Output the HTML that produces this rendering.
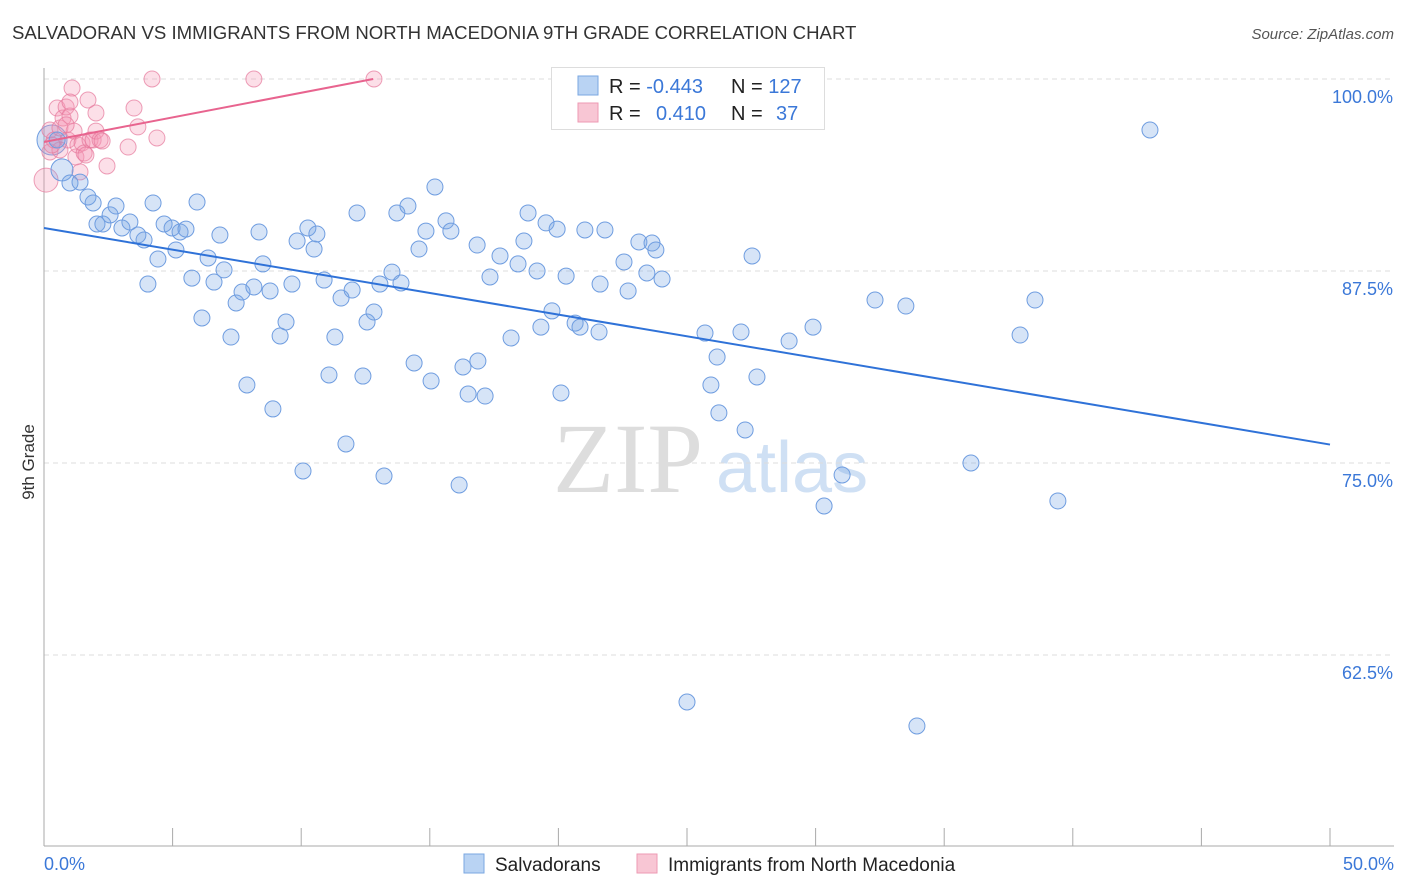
<!DOCTYPE html>
<html><head><meta charset="utf-8"><style>
body{margin:0;background:#fff;font-family:"Liberation Sans",sans-serif;}
svg{display:block}
</style></head><body>
<svg id="chart" width="1406" height="892">
<text x="12" y="39" font-size="18.6" fill="#333">SALVADORAN VS IMMIGRANTS FROM NORTH MACEDONIA 9TH GRADE CORRELATION CHART</text>
<text x="1394" y="39" font-size="15" fill="#555" font-style="italic" text-anchor="end">Source: ZipAtlas.com</text>
<text x="34" y="462" font-size="17" fill="#333" transform="rotate(-90 34 462)" text-anchor="middle">9th Grade</text>
<text x="553" y="492" font-size="100" fill="#ddd" font-family="Liberation Serif">ZIP</text>
<text x="716" y="492" font-size="72" fill="#cfe0f4">atlas</text>
<g id="grid"></g><g id="axes"></g><g id="pts"></g><g id="lines"></g>
<g>
<rect x="551.5" y="67.5" width="273" height="62" fill="#fff" stroke="#ddd"/>
<rect x="578" y="76" width="20" height="19" fill="#b9d3f3" stroke="#7aa7e2"/>
<rect x="578" y="103" width="20" height="19" fill="#f8c6d4" stroke="#ee9ab3"/>
<text x="609" y="93" font-size="20" fill="#222">R = <tspan fill="#3b78d8">-0.443</tspan></text>
<text x="731" y="93" font-size="20" fill="#222">N = <tspan fill="#3b78d8">127</tspan></text>
<text x="609" y="120" font-size="20" fill="#222">R = <tspan fill="#3b78d8" x="656">0.410</tspan></text>
<text x="731" y="120" font-size="20" fill="#222">N = <tspan fill="#3b78d8" x="776">37</tspan></text>
</g>
<g>
<rect x="464" y="854" width="20" height="19" fill="#b9d3f3" stroke="#7aa7e2"/>
<text x="495" y="871" font-size="19" fill="#222">Salvadorans</text>
<rect x="637" y="854" width="20" height="19" fill="#f8c6d4" stroke="#ee9ab3"/>
<text x="668" y="871" font-size="19" fill="#222">Immigrants from North Macedonia</text>
</g>
</svg>
<script>
const yTicks=[100,87.5,75,62.5];
const yTickLabels=["100.0%","87.5%","75.0%","62.5%"];
const xLabels=["0.0%","50.0%"];
const blueX=[1150,57,62,70,80,88,93,97,103,110,116,122,130,138,144,148,153,158,164,172,176,180,186,192,197,202,208,214,220,224,231,236,242,247,254,259,263,270,273,280,286,292,297,303,308,314,317,324,329,335,341,346,352,357,363,367,374,380,384,392,397,401,408,414,419,426,431,435,446,451,459,463,468,477,478,485,490,500,511,518,524,528,537,541,546,552,557,561,566,575,580,585,599,600,605,624,628,639,647,652,656,662,684,687,705,711,717,719,741,745,752,757,789,813,824,842,875,906,917,971,1020,1035,1058].map(p=>+((p-44)/25.72).toFixed(2));
const blueY=[130,140,170,183,182,197,203,224,224,215,206,228,222,235,240,284,203,259,224,228,250,232,229,278,202,318,258,282,235,270,337,303,292,385,287,232,264,291,409,336,322,284,241,471,228,249,234,280,375,337,298,444,290,213,376,322,312,284,476,272,213,283,206,363,249,231,381,187,221,231,485,367,394,245,361,396,277,256,338,264,241,213,271,327,223,311,229,393,276,323,327,230,332,284,230,262,291,242,273,243,250,279,80,702,333,385,357,413,332,430,256,377,341,327,506,475,300,306,726,463,335,300,501].map(p=>+(100-(p-79)/15.36).toFixed(2));
const pinkX=[46,50,50,54,57,60,63,66,68,70,72,74,76,78,80,82,84,88,90,93,96,100,102,107,128,134,138,152,157,254,374,66,60,52,96,86,70].map(p=>+((p-44)/25.72).toFixed(2));
const pinkY=[180,130,152,140,108,128,118,107,140,116,88,131,157,145,172,143,153,100,140,140,131,140,141,166,147,108,127,79,138,79,79,125,150,145,113,155,102].map(p=>+(100-(p-79)/15.36).toFixed(2));
const blueTrend=[[0,90.3],[50,76.2]];
const pinkTrend=[[0,95.9],[12.8,100]];
const X=v=>44+v*25.72, Y=v=>79+(100-v)*15.36;
const NS="http://www.w3.org/2000/svg";
function mk(t,a,p){const e=document.createElementNS(NS,t);for(const k in a)e.setAttribute(k,a[k]);p.appendChild(e);return e;}
const grid=document.getElementById('grid'),axes=document.getElementById('axes'),pts=document.getElementById('pts'),lines=document.getElementById('lines');
yTicks.forEach((t,i)=>{
 const l=mk('line',{x1:44,x2:1394,y1:Y(t),y2:Y(t),stroke:'#ddd','stroke-dasharray':'5,4'},grid);
 
 
 const tx=mk('text',{x:1393,y:Y(t)+24,'font-size':18,fill:'#3b78d8','text-anchor':'end'},axes);
 tx.textContent=yTickLabels[i];
 
 
});
const ya=mk('line',{x1:44,x2:44,y1:68,y2:846,stroke:'#aaa'},axes);


const xa=mk('line',{x1:44,x2:1394,y1:846,y2:846,stroke:'#aaa'},axes);


for(let i=0;i<=10;i++){const xx=44+i*128.6;const tk=mk('line',{x1:xx,x2:xx,y1:828,y2:846,stroke:'#aaa'},axes);
 
 }
[[0,xLabels[0],'start',44],[50,xLabels[1],'end',1394]].forEach(d=>{const t=mk('text',{x:d[3],y:870,'font-size':18,fill:'#3b78d8','text-anchor':d[2]},axes);t.textContent=d[1];
 
 });
mk('circle',{cx:52,cy:140,r:15,fill:'rgba(120,165,230,0.3)',stroke:'#6f9de0'},pts);
pinkX.forEach((x,i)=>{const c=mk('circle',{cx:X(x),cy:Y(pinkY[i]),r:i==0?12:8,fill:'rgba(244,150,180,0.3)',stroke:'rgba(230,120,155,0.7)'},pts);
 
 });
blueX.forEach((x,i)=>{const c=mk('circle',{cx:X(x),cy:Y(blueY[i]),r:i==2?11:8,fill:'rgba(120,165,230,0.3)',stroke:'#6f9de0'},pts);
 
 });
const bl=mk('line',{x1:X(blueTrend[0][0]),y1:Y(blueTrend[0][1]),x2:X(blueTrend[1][0]),y2:Y(blueTrend[1][1]),stroke:'#2f72d8','stroke-width':2},lines);


const pl=mk('line',{x1:X(pinkTrend[0][0]),y1:Y(pinkTrend[0][1]),x2:X(pinkTrend[1][0]),y2:Y(pinkTrend[1][1]),stroke:'#e8648f','stroke-width':2},lines);


</script>
</body></html>
